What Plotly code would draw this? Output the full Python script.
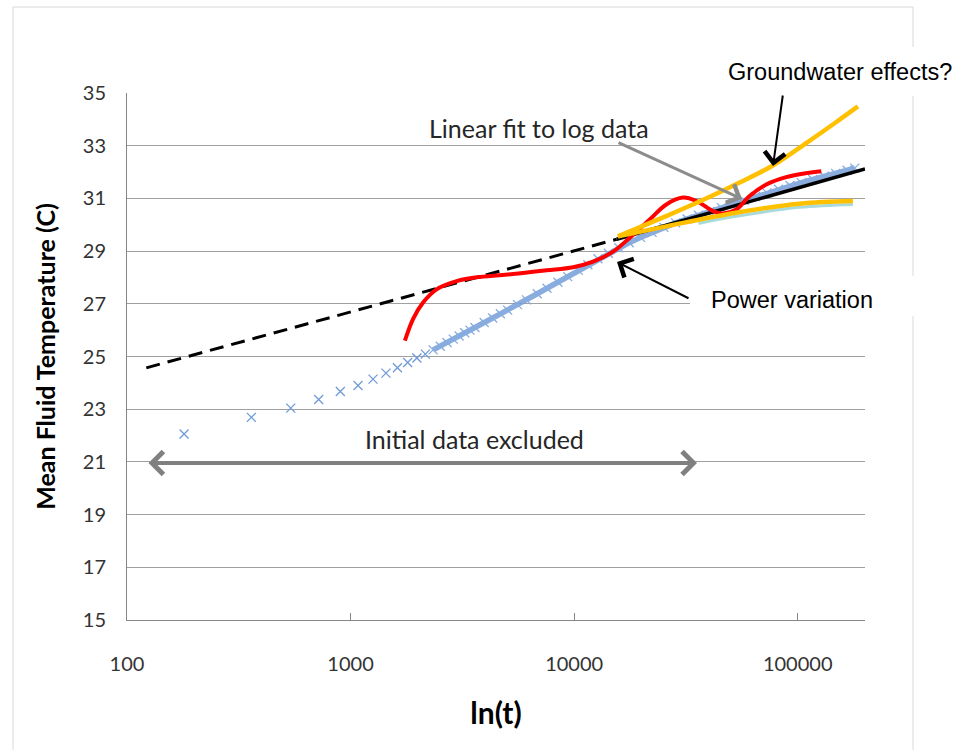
import math
import plotly.graph_objects as go

# ---------------- data ----------------
# measured mean fluid temperature, early (individually visible) samples
t_early = [180, 360, 540, 720, 900, 1080, 1260, 1440, 1620, 1800, 1980, 2160]
T_early = [22.06, 22.69, 23.04, 23.37, 23.67, 23.90, 24.14, 24.37, 24.57, 24.77, 24.94, 25.09]

# measured data, dense part (samples merge into a band)
t_late = [2340, 2520, 2700, 2880, 3060, 3240, 3420, 3600, 3960, 4320, 4680, 5040,
          5580, 6120, 6840, 7560, 8460, 9360, 10440, 11520, 12780, 14220, 15840,
          17640, 19800, 22320, 25200, 28440, 32040, 36000, 40500, 45540, 51120,
          57600, 64800, 72900, 82080, 92340, 103860, 116820, 131400, 147780,
          166320, 180000]
T_late = [25.25, 25.39, 25.53, 25.66, 25.78, 25.90, 26.00, 26.10, 26.29, 26.46, 26.62, 26.76,
          26.97, 27.15, 27.38, 27.59, 27.82, 28.03, 28.27, 28.48, 28.71, 28.92, 29.13,
          29.32, 29.52, 29.71, 29.90, 30.07, 30.22, 30.36, 30.50, 30.65, 30.79,
          30.93, 31.07, 31.21, 31.35, 31.49, 31.60, 31.72, 31.84, 31.95,
          32.07, 32.15]

# linear fit to log data: backward extension (dashed) and fitted part (solid)
fit_dash_t = [122, 15500]
fit_dash_T = [24.57, 29.45]
fit_solid_t = [15500, 200000]
fit_solid_T = [29.45, 32.12]

# power variation curve (red)
red_t = [1750, 1905, 2110, 2425, 2980, 3785, 5330, 7520, 9890, 12150, 14930, 17700,
         21780, 25850, 30690, 35230, 41800, 46330, 53150, 60880, 72350, 88900,
         109200, 127500]
red_T = [25.6, 26.43, 27.05, 27.55, 27.86, 28.02, 28.13, 28.27, 28.39, 28.6, 28.98, 29.5,
         30.2, 30.77, 31.03, 30.9, 30.52, 30.43, 30.58, 31.09, 31.53, 31.81,
         31.96, 32.03]

# groundwater effects curves (orange)
gw_up_t = [15700, 25000, 36400, 55000, 77400, 110000, 150000, 186000]
gw_up_T = [29.56, 30.28, 30.88, 31.6, 32.25, 33.12, 33.92, 34.49]
gw_lo_t = [15700, 25850, 51300, 101900, 176600]
gw_lo_T = [29.56, 29.94, 30.44, 30.8, 30.9]

# light teal curve beneath the lower orange curve
teal_t = [36000, 51300, 101900, 176600]
teal_T = [30.05, 30.3, 30.66, 30.77]

x_ticks = [100, 1000, 10000, 100000]
x_ticktext = ["100", "1000", "10000", "100000"]
y_ticks = [15, 17, 19, 21, 23, 25, 27, 29, 31, 33, 35]

# ---------------- layout helpers ----------------
W, H = 956, 750
L, R, T, B = 127, 865, 93, 620   # plot-area pixel box


def px_x(px):
    return (px - L) / (R - L)


def px_y(py):
    return (B - py) / (B - T)


CAL = "Lato, Carlito, Calibri, sans-serif"
ARI = "Liberation Sans, Arial, sans-serif"

fig = go.Figure()

blue = "#6f9bd6"
fig.add_trace(go.Scatter(
    x=t_early, y=T_early, mode="markers",
    marker=dict(symbol="x-thin", size=9, line=dict(color=blue, width=1.3)),
    showlegend=False))
fig.add_trace(go.Scatter(
    x=t_late, y=T_late, mode="lines+markers",
    line=dict(color="rgba(110,152,212,0.8)", width=5.5),
    marker=dict(symbol="x-thin", size=9, line=dict(color="#86ace0", width=1.3)),
    showlegend=False))
fig.add_trace(go.Scatter(
    x=teal_t, y=teal_T, mode="lines", line=dict(color="#a8dadc", width=3, shape="spline"),
    showlegend=False))
fig.add_trace(go.Scatter(
    x=fit_dash_t, y=fit_dash_T, mode="lines",
    line=dict(color="black", width=3, dash="14px,8px"), showlegend=False))
fig.add_trace(go.Scatter(
    x=fit_solid_t, y=fit_solid_T, mode="lines",
    line=dict(color="black", width=3.5), showlegend=False))
fig.add_trace(go.Scatter(
    x=red_t, y=red_T, mode="lines",
    line=dict(color="#ff0000", width=4, shape="spline", smoothing=1), showlegend=False))
fig.add_trace(go.Scatter(
    x=gw_lo_t, y=gw_lo_T, mode="lines",
    line=dict(color="#ffc000", width=4.5, shape="spline"), showlegend=False))
fig.add_trace(go.Scatter(
    x=gw_up_t, y=gw_up_T, mode="lines",
    line=dict(color="#ffc000", width=4.5, shape="spline"), showlegend=False))

shapes = [
    # outer chart frame
    dict(type="rect", xref="paper", yref="paper",
         x0=px_x(13), x1=px_x(913), y0=px_y(770), y1=px_y(7),
         line=dict(color="#d9d9d9", width=1), fillcolor="rgba(0,0,0,0)", layer="below"),
    # white text boxes
    dict(type="rect", xref="paper", yref="paper",
         x0=px_x(707), x1=px_x(980), y0=px_y(96), y1=px_y(47),
         line=dict(width=0), fillcolor="white", layer="above"),
    dict(type="rect", xref="paper", yref="paper",
         x0=px_x(690), x1=px_x(925), y0=px_y(316), y1=px_y(276),
         line=dict(width=0), fillcolor="white", layer="above"),
]


def label(text, cx, cy, family, size, color):
    return dict(text=text, xref="paper", yref="paper", x=px_x(cx), y=px_y(cy),
                xanchor="center", yanchor="middle", showarrow=False,
                font=dict(family=family, size=size, color=color))


def arrow(tip, tail, color, width, size, both=False):
    d = dict(text="", xref="paper", yref="paper", x=px_x(tip[0]), y=px_y(tip[1]),
             ax=tail[0] - tip[0], ay=tail[1] - tip[1], showarrow=True,
             arrowhead=4, arrowsize=size, arrowwidth=width, arrowcolor=color)
    if both:
        d["arrowside"] = "end+start"
        d["startarrowhead"] = 4
        d["startarrowsize"] = size
    return d


annotations = [
    label("Groundwater effects?", 840, 72, ARI, 23.5, "black"),
    label("Power variation", 792, 300, ARI, 23.5, "black"),
    label("Linear fit to log data", 539, 128, CAL, 25, "#262626"),
    label("Initial data excluded", 474, 439, CAL, 25, "#262626"),
    arrow((742, 199), (617, 142), "#8c8c8c", 3, 1.3),
    arrow((773, 166), (783, 94), "black", 2, 2),
    arrow((617, 262), (690, 299), "black", 2, 2),
    arrow((697, 463), (147, 463), "#808080", 4, 1.1, both=True),
]

fig.update_layout(
    width=W, height=H,
    margin=dict(l=L, r=W - R, t=T, b=H - B, pad=0),
    paper_bgcolor="white", plot_bgcolor="white",
    showlegend=False,
    shapes=shapes, annotations=annotations,
    xaxis=dict(
        type="log", range=[2, math.log10(200000)],
        tickvals=x_ticks, ticktext=x_ticktext,
        showgrid=False, zeroline=False,
        showline=True, linecolor="#868686", linewidth=1,
        ticks="inside", ticklen=7, tickcolor="#868686",
        tickfont=dict(family=CAL, size=20, color="#333333"),
        ticklabelstandoff=26,
        title=dict(text="<b>ln(t)</b>", standoff=28,
                   font=dict(family=CAL, size=30, color="black")),
    ),
    yaxis=dict(
        range=[15, 35], tickvals=y_ticks,
        showgrid=True, gridcolor="#a0a0a0", gridwidth=1,
        zeroline=False,
        showline=True, linecolor="#868686", linewidth=1,
        ticks="",
        tickfont=dict(family=CAL, size=20, color="#333333"),
        ticklabelstandoff=16,
        title=dict(text="<b>Mean Fluid Temperature (C)</b>", standoff=20,
                   font=dict(family=CAL, size=25, color="black")),
    ),
)

fig.write_html("out.html")
